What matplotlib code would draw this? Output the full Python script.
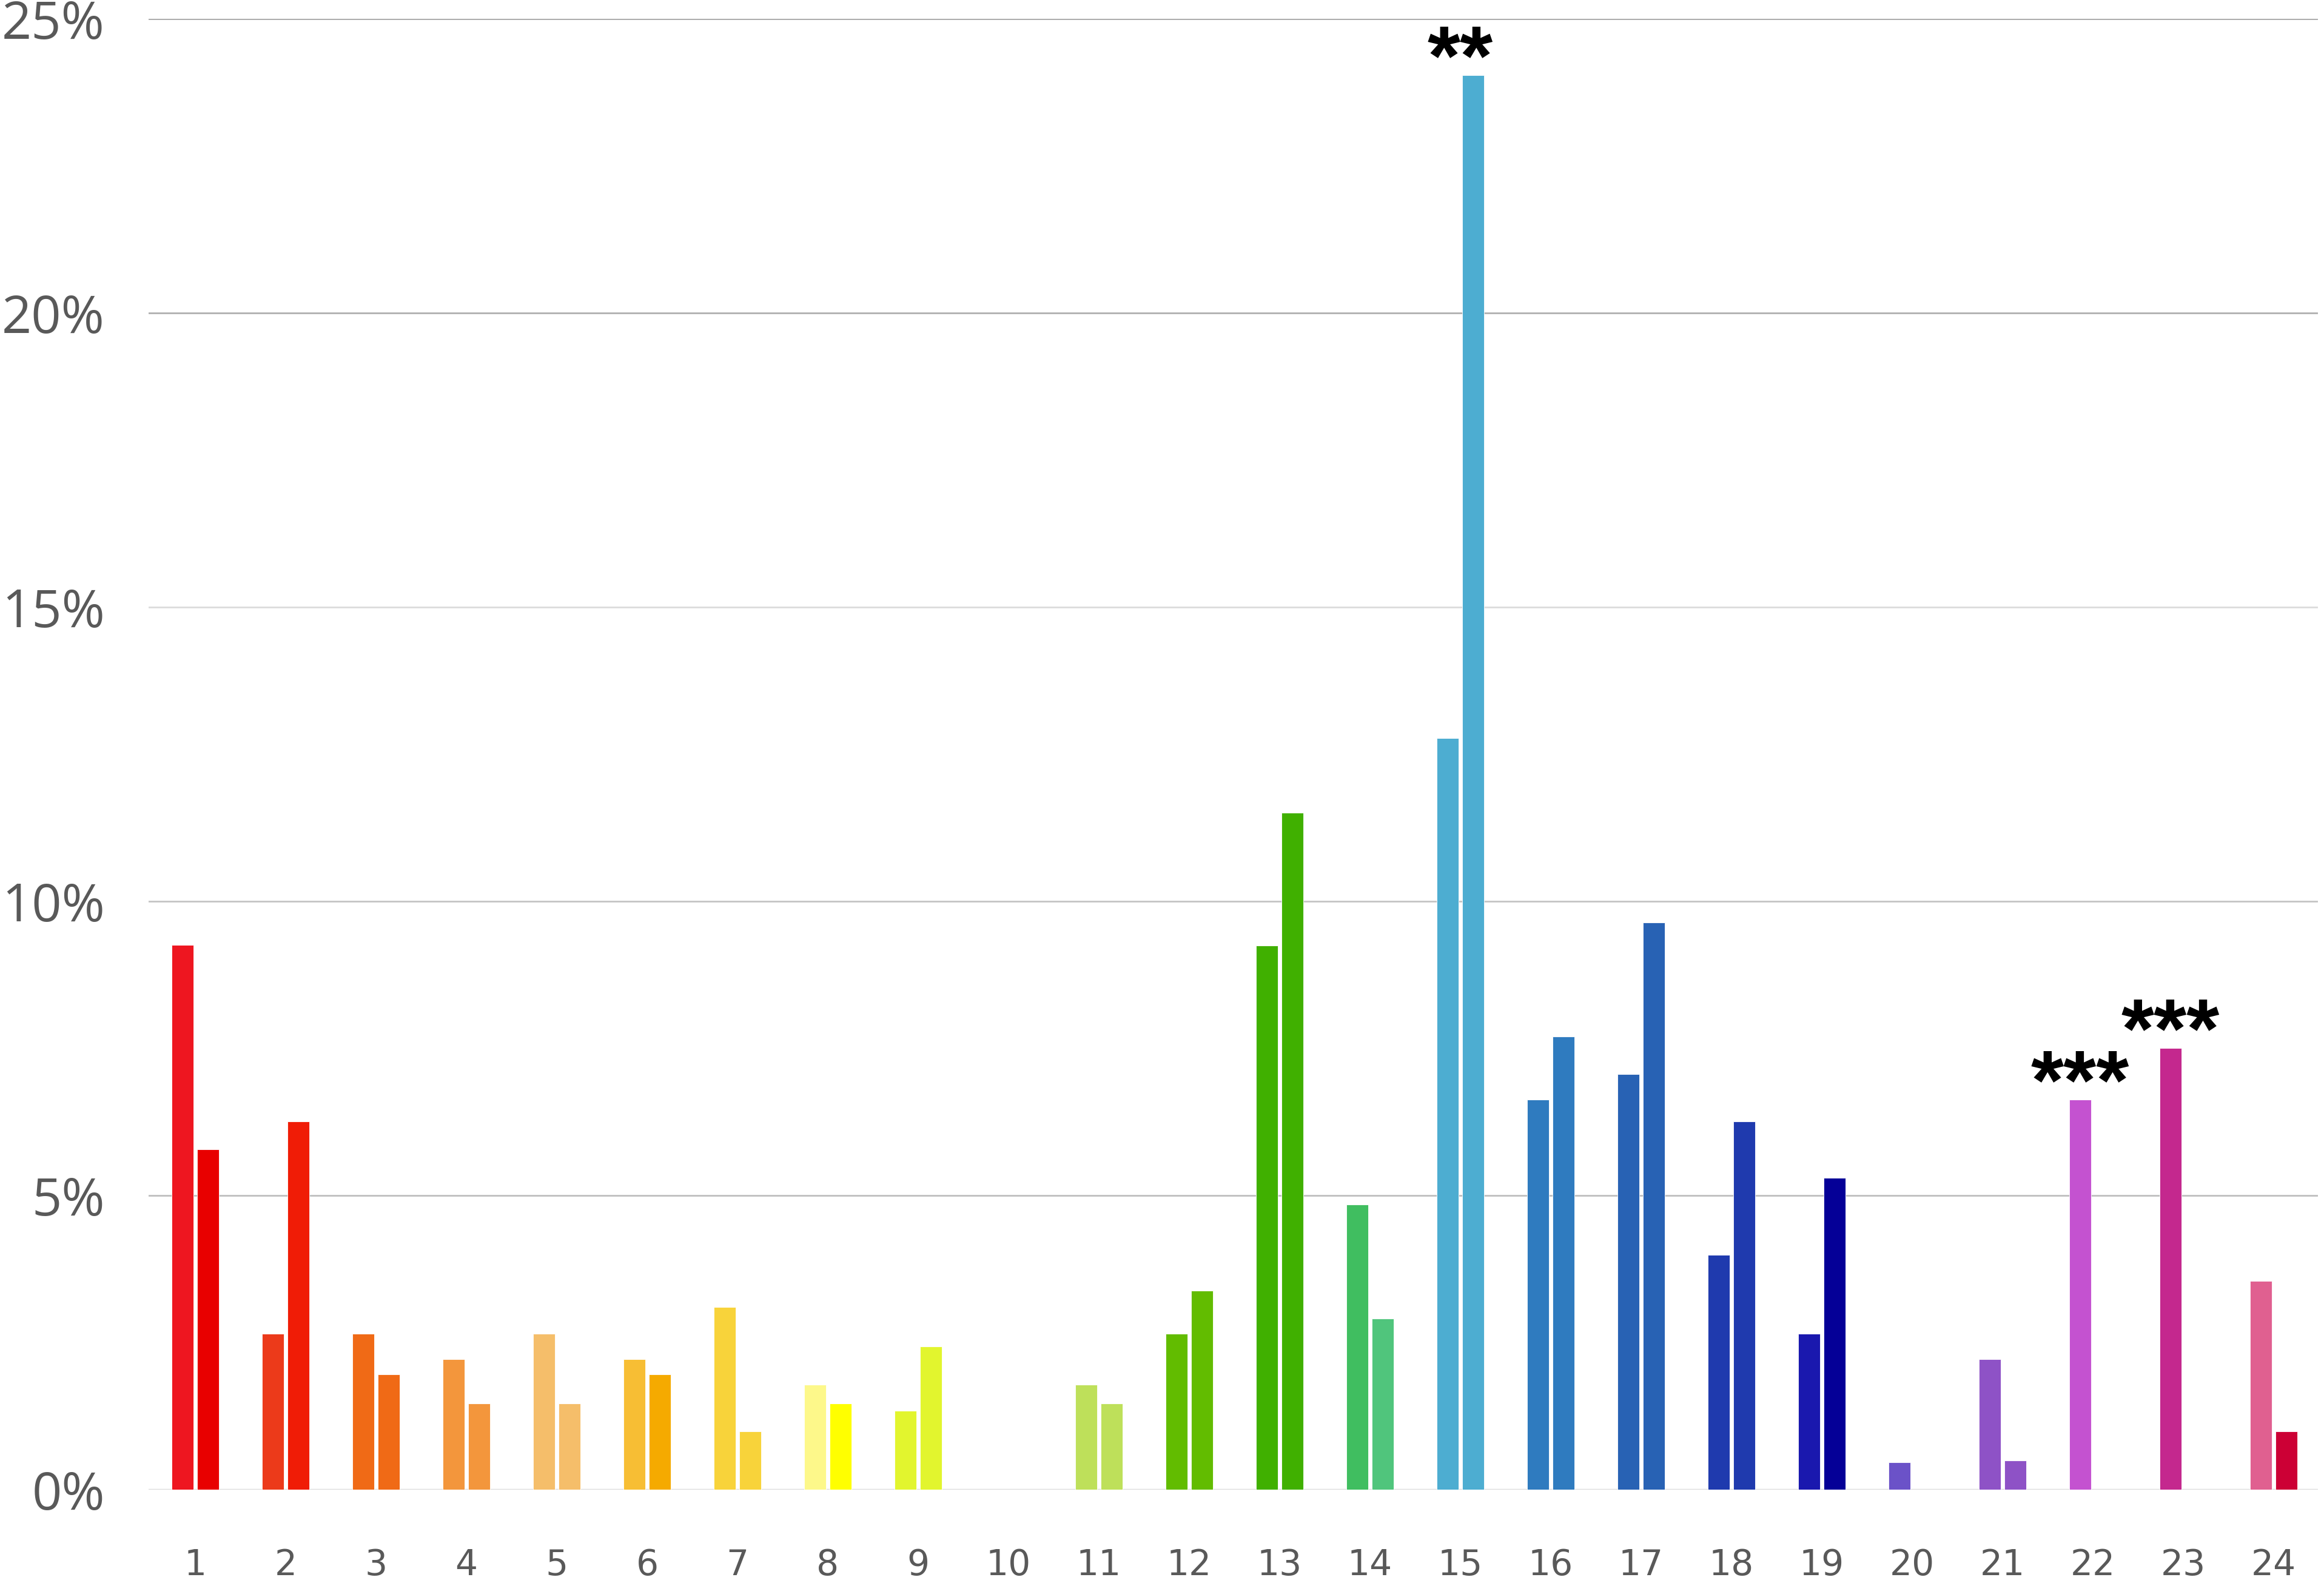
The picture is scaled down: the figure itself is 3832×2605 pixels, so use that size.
import matplotlib
matplotlib.use("Agg")
import matplotlib.pyplot as plt
import numpy as np

# ---------------- data ----------------
groups = [str(i) for i in range(1, 25)]

# left bar of each group (percent); None = no bar
series_a = [9.26, 2.65, 2.65, 2.22, 2.65, 2.22, 3.10, 1.78, 1.34, None,
            1.78, 2.65, 9.25, 4.85, 12.77, 6.63, 7.06, 3.99, 2.65, 0.46,
            2.22, 6.63, 7.51, 3.55]
# right bar of each group (percent); None = no bar
series_b = [5.78, 6.26, 1.96, 1.46, 1.46, 1.96, 0.99, 1.46, 2.43, None,
            1.46, 3.38, 11.51, 2.91, 24.04, 7.70, 9.64, 6.26, 5.30, None,
            0.49, None, None, 0.99]

colors_a = ["#EE1620", "#EC3A1A", "#F06A16", "#F3963C", "#F5BE6A", "#F7BE34",
            "#F8D33A", "#FDF88A", "#E2F52E", "#FFFFFF", "#BEE05A", "#62BC00",
            "#40B000", "#40BE60", "#4DADD1", "#2F7BBF", "#2862B4", "#1F3AAE",
            "#1A18AE", "#6B52C8", "#8E52C6", "#C452D0", "#C4288E", "#E06090"]
colors_b = ["#E80000", "#F01C06", "#F06A16", "#F3963C", "#F5BE6A", "#F5AA00",
            "#F8D33A", "#FFFF00", "#E2F52E", "#FFFFFF", "#BEE05A", "#62BC00",
            "#40B000", "#50C57C", "#4DADD1", "#2F7BBF", "#2862B4", "#1F3AAE",
            "#050097", "#6B52C8", "#8E52C6", "#C452D0", "#C4288E", "#CC0035"]

significance = ["", "", "", "", "", "", "", "", "", "", "", "", "", "",
                "**", "", "", "", "", "", "", "***", "***", ""]

yticks = [0, 5, 10, 15, 20, 25]
ytick_labels = ["0%", "5%", "10%", "15%", "20%", "25%"]
grid_colors = ["#D9D9D9", "#BFBFBF", "#C4C4C4", "#DCDCDC", "#B0B0B0", "#A8A8A8"]

# ---------------- figure ----------------
W, H, DPI = 3832, 2605, 100
fig = plt.figure(figsize=(W / DPI, H / DPI), dpi=DPI)
fig.patch.set_facecolor("white")
ax = fig.add_axes([245 / W, 1 - 2456 / H, (3822 - 245) / W, (2456 - 31) / H])

x = np.arange(len(groups))
off = 0.141
bw = 0.242

# gridlines
for yv, gc in zip(yticks, grid_colors):
    ax.axhline(yv, color=gc, lw=2.0 if yv else 2.4, zorder=1)

for i in range(len(groups)):
    if series_a[i] is not None:
        ax.bar(x[i] - off, series_a[i], width=bw, color=colors_a[i],
               edgecolor="white", linewidth=0.6, zorder=3)
    if series_b[i] is not None:
        ax.bar(x[i] + off, series_b[i], width=bw, color=colors_b[i],
               edgecolor="white", linewidth=0.6, zorder=3)

# significance markers
for i, s in enumerate(significance):
    if not s:
        continue
    pos, vals = [], []
    if series_a[i] is not None:
        pos.append(x[i] - off); vals.append(series_a[i])
    if series_b[i] is not None:
        pos.append(x[i] + off); vals.append(series_b[i])
    ax.annotate(s, xy=(np.mean(pos), max(vals)), xytext=(0, -11),
                textcoords="offset points", ha="center", va="baseline",
                fontsize=100, fontweight="bold", color="black",
                family=["Liberation Sans", "DejaVu Sans"], zorder=5)

ax.set_xlim(-0.517, len(groups) - 1 + 0.49)
ax.set_ylim(0, 25)

ax.set_xticks(x)
ax.set_xticklabels(groups, fontsize=42, color="#595959",
                   family=["DejaVu Sans"])
ax.set_yticks(yticks)
ax.set_yticklabels(ytick_labels, fontsize=62, color="#595959",
                   family=["Open Sans", "DejaVu Sans"])
ax.tick_params(axis="x", length=0, pad=69)
ax.tick_params(axis="y", length=0, pad=52)

for sp in ax.spines.values():
    sp.set_visible(False)
ax.set_facecolor("white")

fig.savefig("out.png", dpi=DPI, facecolor="white")
